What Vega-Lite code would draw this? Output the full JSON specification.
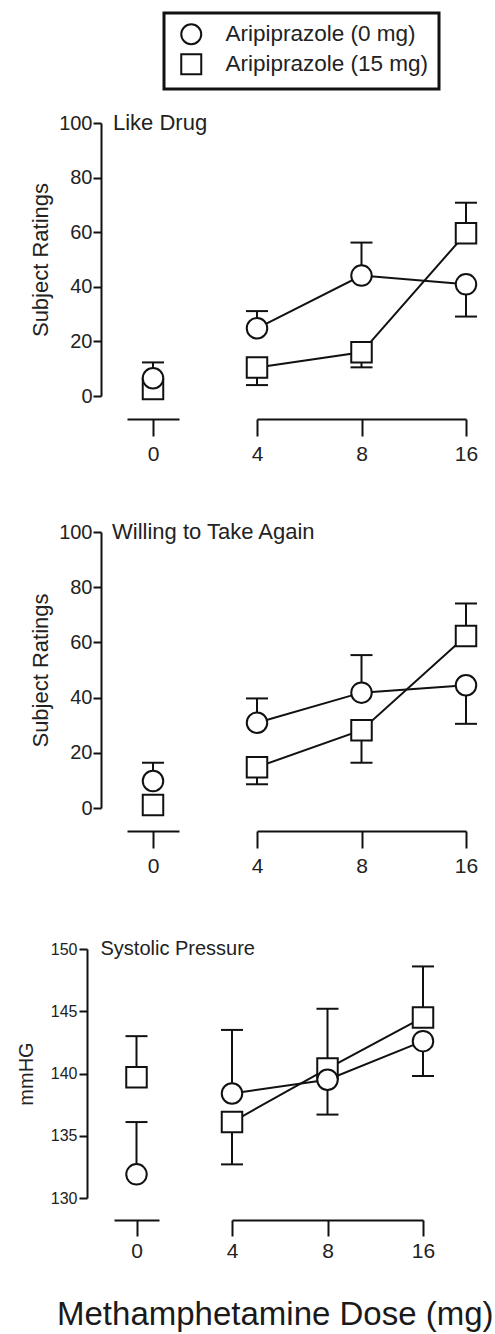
{
  "$schema": "https://vega.github.io/schema/vega-lite/v6.json",
  "padding": {"left": 16, "top": 11, "right": 5, "bottom": 2},
  "background": "white",
  "title": {"text": "Methamphetamine Dose (mg)", "orient": "bottom", "anchor": "middle", "fontSize": 33, "fontWeight": "normal", "font": "Liberation Sans", "color": "#1a1a1a", "offset": 38, "dx": 27},
  "datasets": {
    "pts": [
      {"panel": "like", "group": "Aripiprazole (15 mg)", "dose": 0, "mean": 2.6, "bar": 2.6},
      {"panel": "like", "group": "Aripiprazole (15 mg)", "dose": 4, "mean": 10.4, "bar": 4.0},
      {"panel": "like", "group": "Aripiprazole (15 mg)", "dose": 8, "mean": 16.0, "bar": 10.5},
      {"panel": "like", "group": "Aripiprazole (15 mg)", "dose": 16, "mean": 59.6, "bar": 70.8},
      {"panel": "like", "group": "Aripiprazole (0 mg)", "dose": 0, "mean": 6.5, "bar": 12.3},
      {"panel": "like", "group": "Aripiprazole (0 mg)", "dose": 4, "mean": 24.8, "bar": 31.1},
      {"panel": "like", "group": "Aripiprazole (0 mg)", "dose": 8, "mean": 44.1, "bar": 56.2},
      {"panel": "like", "group": "Aripiprazole (0 mg)", "dose": 16, "mean": 40.9, "bar": 29.1},
      {"panel": "willing", "group": "Aripiprazole (15 mg)", "dose": 0, "mean": 1.1, "bar": 1.1},
      {"panel": "willing", "group": "Aripiprazole (15 mg)", "dose": 4, "mean": 14.8, "bar": 8.6},
      {"panel": "willing", "group": "Aripiprazole (15 mg)", "dose": 8, "mean": 28.2, "bar": 16.4},
      {"panel": "willing", "group": "Aripiprazole (15 mg)", "dose": 16, "mean": 62.3, "bar": 74.1},
      {"panel": "willing", "group": "Aripiprazole (0 mg)", "dose": 0, "mean": 9.8, "bar": 16.4},
      {"panel": "willing", "group": "Aripiprazole (0 mg)", "dose": 4, "mean": 30.9, "bar": 39.7},
      {"panel": "willing", "group": "Aripiprazole (0 mg)", "dose": 8, "mean": 41.8, "bar": 55.4},
      {"panel": "willing", "group": "Aripiprazole (0 mg)", "dose": 16, "mean": 44.5, "bar": 30.5},
      {"panel": "systolic", "group": "Aripiprazole (15 mg)", "dose": 0, "mean": 139.7, "bar": 143.0},
      {"panel": "systolic", "group": "Aripiprazole (15 mg)", "dose": 4, "mean": 136.1, "bar": 132.7},
      {"panel": "systolic", "group": "Aripiprazole (15 mg)", "dose": 8, "mean": 140.4, "bar": 145.2},
      {"panel": "systolic", "group": "Aripiprazole (15 mg)", "dose": 16, "mean": 144.5, "bar": 148.6},
      {"panel": "systolic", "group": "Aripiprazole (0 mg)", "dose": 0, "mean": 131.9, "bar": 136.1},
      {"panel": "systolic", "group": "Aripiprazole (0 mg)", "dose": 4, "mean": 138.4, "bar": 143.5},
      {"panel": "systolic", "group": "Aripiprazole (0 mg)", "dose": 8, "mean": 139.5, "bar": 136.7},
      {"panel": "systolic", "group": "Aripiprazole (0 mg)", "dose": 16, "mean": 142.6, "bar": 139.8}
    ]
  },
  "align": "none",
  "spacing": 63,
  "vconcat": [
    {
      "align": "none",
      "spacing": 57,
      "vconcat": [
        {
          "bounds": "flush",
          "spacing": 65,
          "hconcat": [
            {
              "width": 78, "height": 273,
              "data": {"name": "pts"},
              "transform": [{"filter": "datum.panel === 'like' && datum.dose === 0"}],
              "encoding": {
                "x": {"field": "dose", "type": "ordinal", "scale": {"type": "point", "domain": [0]}, "axis": {"title": null, "labelAngle": 0, "offset": 23, "tickSize": 17, "labelFontSize": 21, "labelPadding": 7, "domainDash": [0, 13, 52, 13]}}
              },
              "layer": [
                {"mark": {"type": "rule", "strokeWidth": 2, "color": "#111"},
                 "encoding": {"y": {"field": "mean", "type": "quantitative", "scale": {"domain": [0, 100], "nice": false, "zero": false}, "axis": {"title": "Subject Ratings", "values": [0, 20, 40, 60, 80, 100], "offset": 13, "tickSize": 8, "labelFontSize": 20, "labelPadding": 1, "titleFontSize": 22, "titlePadding": 6}}, "y2": {"field": "bar"}}},
                {"transform": [{"filter": "datum.bar !== datum.mean"}],
                 "mark": {"type": "tick", "size": 22, "thickness": 2, "color": "#111", "opacity": 1},
                 "encoding": {"y": {"field": "bar", "type": "quantitative"}}},
                {"mark": {"type": "point", "size": 420, "filled": true, "fill": "white", "stroke": "#111", "strokeWidth": 2, "opacity": 1},
                 "encoding": {"y": {"field": "mean", "type": "quantitative"},
                   "shape": {"field": "group", "type": "nominal", "scale": {"domain": ["Aripiprazole (0 mg)", "Aripiprazole (15 mg)"], "range": ["circle", "square"]},
                     "legend": {"title": null, "orient": "none", "legendX": 50, "legendY": -110, "strokeColor": "#111", "padding": 10, "symbolSize": 400, "symbolOffset": 6, "labelFontSize": 22.5, "labelFont": "Liberation Sans", "labelColor": "#222", "labelOffset": 23, "labelLimit": 400, "rowPadding": 1,
                       "encoding": {"legend": {"strokeWidth": {"value": 3}}, "symbols": {"fill": {"value": "white"}, "stroke": {"value": "#111"}, "strokeWidth": {"value": 2}, "opacity": {"value": 1}}}}}}},
                {"data": {"values": [{"label": "Like Drug"}]},
                 "mark": {"type": "text", "align": "left", "baseline": "middle", "dx": -40, "fontSize": 22, "color": "#222", "font": "Liberation Sans"},
                 "encoding": {"x": {"datum": 0, "type": "ordinal"}, "y": {"datum": 100, "type": "quantitative"}, "text": {"field": "label"}}}
              ]
            },
            {
              "width": 209, "height": 273,
              "data": {"name": "pts"},
              "transform": [{"filter": "datum.panel === 'like' && datum.dose > 0"}],
              "encoding": {
                "x": {"field": "dose", "type": "ordinal", "scale": {"type": "point", "domain": [4, 8, 16], "padding": 0}, "axis": {"title": null, "labelAngle": 0, "offset": 23, "tickSize": 17, "labelFontSize": 21, "labelPadding": 7}}
              },
              "layer": [
                {"mark": {"type": "rule", "strokeWidth": 2, "color": "#111"},
                 "encoding": {"y": {"field": "mean", "type": "quantitative", "scale": {"domain": [0, 100], "nice": false, "zero": false}, "axis": null}, "y2": {"field": "bar"}}},
                {"mark": {"type": "tick", "size": 22, "thickness": 2, "color": "#111", "opacity": 1},
                 "encoding": {"y": {"field": "bar", "type": "quantitative", "axis": null}}},
                {"mark": {"type": "line", "strokeWidth": 2, "color": "#111"},
                 "encoding": {"y": {"field": "mean", "type": "quantitative", "axis": null}, "detail": {"field": "group"}}},
                {"mark": {"type": "point", "size": 420, "filled": true, "fill": "white", "stroke": "#111", "strokeWidth": 2, "opacity": 1},
                 "encoding": {"y": {"field": "mean", "type": "quantitative", "axis": null},
                   "shape": {"field": "group", "type": "nominal", "scale": {"domain": ["Aripiprazole (0 mg)", "Aripiprazole (15 mg)"], "range": ["circle", "square"]}, "legend": null}}}
              ]
            }
          ]
        },
        {
          "bounds": "flush",
          "spacing": 65,
          "hconcat": [
            {
              "width": 78, "height": 276,
              "data": {"name": "pts"},
              "transform": [{"filter": "datum.panel === 'willing' && datum.dose === 0"}],
              "encoding": {
                "x": {"field": "dose", "type": "ordinal", "scale": {"type": "point", "domain": [0]}, "axis": {"title": null, "labelAngle": 0, "offset": 23, "tickSize": 17, "labelFontSize": 21, "labelPadding": 7, "domainDash": [0, 13, 52, 13]}}
              },
              "layer": [
                {"mark": {"type": "rule", "strokeWidth": 2, "color": "#111"},
                 "encoding": {"y": {"field": "mean", "type": "quantitative", "scale": {"domain": [0, 100], "nice": false, "zero": false}, "axis": {"title": "Subject Ratings", "values": [0, 20, 40, 60, 80, 100], "offset": 13, "tickSize": 8, "labelFontSize": 20, "labelPadding": 1, "titleFontSize": 22, "titlePadding": 6}}, "y2": {"field": "bar"}}},
                {"transform": [{"filter": "datum.bar !== datum.mean"}],
                 "mark": {"type": "tick", "size": 22, "thickness": 2, "color": "#111", "opacity": 1},
                 "encoding": {"y": {"field": "bar", "type": "quantitative"}}},
                {"mark": {"type": "point", "size": 420, "filled": true, "fill": "white", "stroke": "#111", "strokeWidth": 2, "opacity": 1},
                 "encoding": {"y": {"field": "mean", "type": "quantitative"},
                   "shape": {"field": "group", "type": "nominal", "scale": {"domain": ["Aripiprazole (0 mg)", "Aripiprazole (15 mg)"], "range": ["circle", "square"]}, "legend": null}}},
                {"data": {"values": [{"label": "Willing to Take Again"}]},
                 "mark": {"type": "text", "align": "left", "baseline": "middle", "dx": -41, "fontSize": 22, "color": "#222", "font": "Liberation Sans"},
                 "encoding": {"x": {"datum": 0, "type": "ordinal"}, "y": {"datum": 100, "type": "quantitative"}, "text": {"field": "label"}}}
              ]
            },
            {
              "width": 209, "height": 276,
              "data": {"name": "pts"},
              "transform": [{"filter": "datum.panel === 'willing' && datum.dose > 0"}],
              "encoding": {
                "x": {"field": "dose", "type": "ordinal", "scale": {"type": "point", "domain": [4, 8, 16], "padding": 0}, "axis": {"title": null, "labelAngle": 0, "offset": 23, "tickSize": 17, "labelFontSize": 21, "labelPadding": 7}}
              },
              "layer": [
                {"mark": {"type": "rule", "strokeWidth": 2, "color": "#111"},
                 "encoding": {"y": {"field": "mean", "type": "quantitative", "scale": {"domain": [0, 100], "nice": false, "zero": false}, "axis": null}, "y2": {"field": "bar"}}},
                {"mark": {"type": "tick", "size": 22, "thickness": 2, "color": "#111", "opacity": 1},
                 "encoding": {"y": {"field": "bar", "type": "quantitative", "axis": null}}},
                {"mark": {"type": "line", "strokeWidth": 2, "color": "#111"},
                 "encoding": {"y": {"field": "mean", "type": "quantitative", "axis": null}, "detail": {"field": "group"}}},
                {"mark": {"type": "point", "size": 420, "filled": true, "fill": "white", "stroke": "#111", "strokeWidth": 2, "opacity": 1},
                 "encoding": {"y": {"field": "mean", "type": "quantitative", "axis": null},
                   "shape": {"field": "group", "type": "nominal", "scale": {"domain": ["Aripiprazole (0 mg)", "Aripiprazole (15 mg)"], "range": ["circle", "square"]}, "legend": null}}}
              ]
            }
          ]
        }
      ]
    },
    {
      "bounds": "flush",
      "spacing": 73,
      "hconcat": [
        {
          "width": 45, "height": 249,
          "data": {"name": "pts"},
          "transform": [{"filter": "datum.panel === 'systolic' && datum.dose === 0"}],
          "encoding": {
            "x": {"field": "dose", "type": "ordinal", "scale": {"type": "point", "domain": [0]}, "axis": {"title": null, "labelAngle": 0, "offset": 22, "tickSize": 16, "labelFontSize": 21, "labelPadding": 4}}
          },
          "layer": [
            {"mark": {"type": "rule", "strokeWidth": 2, "color": "#111"},
             "encoding": {"y": {"field": "mean", "type": "quantitative", "scale": {"domain": [130, 150], "nice": false, "zero": false}, "axis": {"title": "mmHG", "values": [130, 135, 140, 145, 150], "offset": 27, "tickSize": 8, "labelFontSize": 16, "labelPadding": 2, "titleFontSize": 20, "titlePadding": 14}}, "y2": {"field": "bar"}}},
            {"transform": [{"filter": "datum.bar !== datum.mean"}],
             "mark": {"type": "tick", "size": 22, "thickness": 2, "color": "#111", "opacity": 1},
             "encoding": {"y": {"field": "bar", "type": "quantitative"}}},
            {"mark": {"type": "point", "size": 420, "filled": true, "fill": "white", "stroke": "#111", "strokeWidth": 2, "opacity": 1},
             "encoding": {"y": {"field": "mean", "type": "quantitative"},
               "shape": {"field": "group", "type": "nominal", "scale": {"domain": ["Aripiprazole (0 mg)", "Aripiprazole (15 mg)"], "range": ["circle", "square"]}, "legend": null}}},
            {"data": {"values": [{"label": "Systolic Pressure"}]},
             "mark": {"type": "text", "align": "left", "baseline": "middle", "dx": -36, "fontSize": 20, "color": "#222", "font": "Liberation Sans"},
             "encoding": {"x": {"datum": 0, "type": "ordinal"}, "y": {"datum": 150, "type": "quantitative"}, "text": {"field": "label"}}}
          ]
        },
        {
          "width": 191, "height": 249,
          "data": {"name": "pts"},
          "transform": [{"filter": "datum.panel === 'systolic' && datum.dose > 0"}],
          "encoding": {
            "x": {"field": "dose", "type": "ordinal", "scale": {"type": "point", "domain": [4, 8, 16], "padding": 0}, "axis": {"title": null, "labelAngle": 0, "offset": 22, "tickSize": 16, "labelFontSize": 21, "labelPadding": 4}}
          },
          "layer": [
            {"mark": {"type": "rule", "strokeWidth": 2, "color": "#111"},
             "encoding": {"y": {"field": "mean", "type": "quantitative", "scale": {"domain": [130, 150], "nice": false, "zero": false}, "axis": null}, "y2": {"field": "bar"}}},
            {"mark": {"type": "tick", "size": 22, "thickness": 2, "color": "#111", "opacity": 1},
             "encoding": {"y": {"field": "bar", "type": "quantitative", "axis": null}}},
            {"mark": {"type": "line", "strokeWidth": 2, "color": "#111"},
             "encoding": {"y": {"field": "mean", "type": "quantitative", "axis": null}, "detail": {"field": "group"}}},
            {"mark": {"type": "point", "size": 420, "filled": true, "fill": "white", "stroke": "#111", "strokeWidth": 2, "opacity": 1},
             "encoding": {"y": {"field": "mean", "type": "quantitative", "axis": null},
               "shape": {"field": "group", "type": "nominal", "scale": {"domain": ["Aripiprazole (0 mg)", "Aripiprazole (15 mg)"], "range": ["circle", "square"]}, "legend": null}}}
          ]
        }
      ]
    }
  ],
  "config": {
    "view": {"stroke": null},
    "font": "Liberation Sans",
    "axis": {"grid": false, "domainColor": "#111", "tickColor": "#111", "labelColor": "#222", "titleColor": "#222", "domainWidth": 2, "tickWidth": 2, "titleFontWeight": "normal", "labelFont": "Liberation Sans", "titleFont": "Liberation Sans"}
  }
}
